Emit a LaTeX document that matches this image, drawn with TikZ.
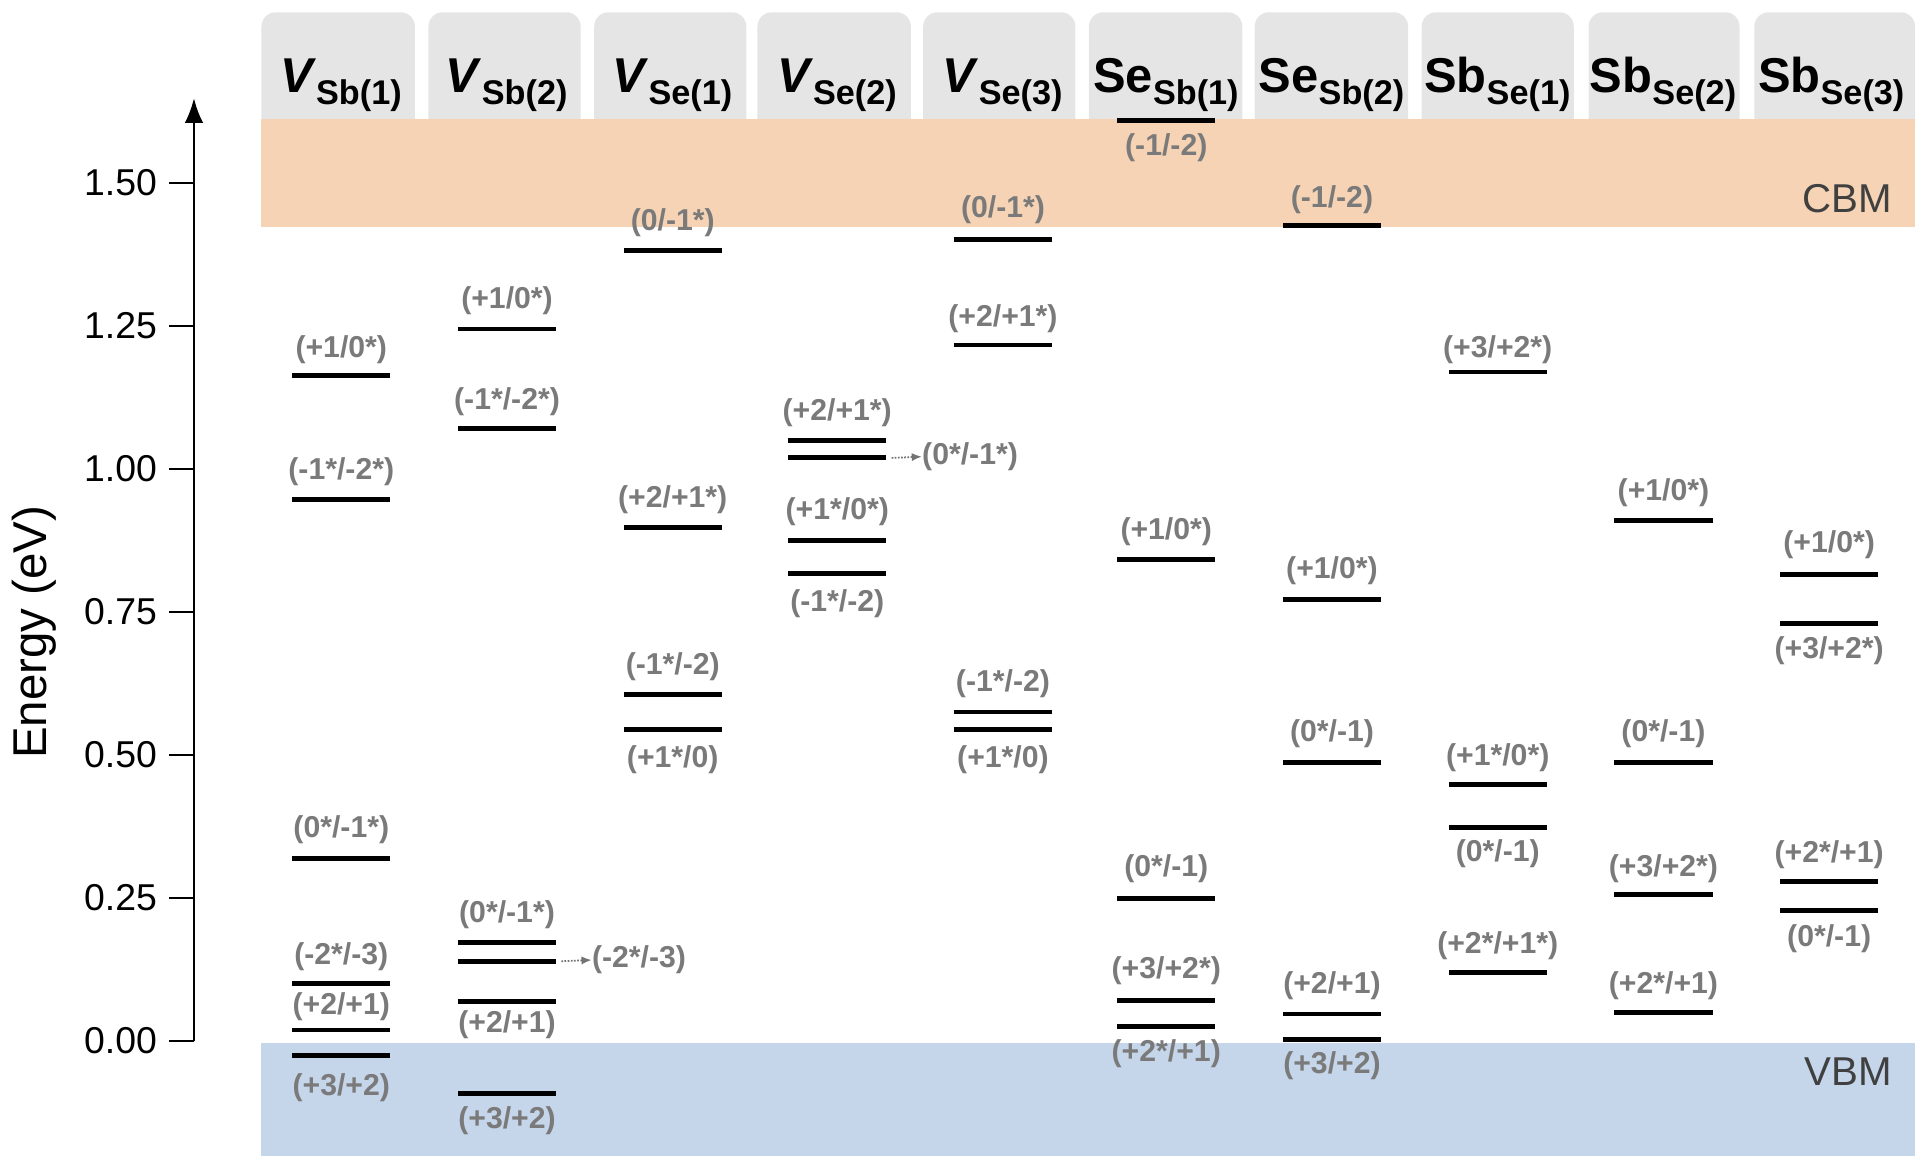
\documentclass[tikz,border=0pt]{standalone}
\usepackage{fontspec}
\usetikzlibrary{arrows.meta}
\setmainfont{Liberation Sans}
\definecolor{cbmc}{RGB}{245,211,180}
\definecolor{vbmc}{RGB}{197,213,234}
\begin{document}
\begin{tikzpicture}[x=0.03cm,y=-0.03cm,
  lvl/.style={fill=black,inner sep=0,minimum width=80*0.03cm,minimum height=0.12cm},
  lab/.style={text=black!52,font=\fontsize{21}{24}\selectfont\bfseries,inner sep=0},
  tick/.style={font=\fontsize{26}{30}\selectfont,anchor=east,inner sep=0},
  hdr/.style={font=\fontsize{34}{38}\selectfont\bfseries,anchor=base,inner sep=0},
  tab/.style={fill=black!10,rounded corners=0.35cm},
  dots/.style={densely dotted,black!55,line width=1.2pt,-{Latex[length=0.25cm,width=0.2cm]}}]
\useasboundingbox (0,0) rectangle (1564,948);
\newcommand\lv[5]{\node[lvl] (#1) at (#2,#3) {};\node[lab] (#1t) at (#2,#4) {#5};}
% tabs
\foreach \a/\b [count=\i] in {213/338,349/473,484/608,617/742,752/876,887/1012,1022/1147,1158/1282,1294/1417,1429/1560}
  \fill[tab] (\a,10) rectangle (\b,115);
\fill[vbmc] (213,850) rectangle (1560,942);
\fill[white] (213,185) rectangle (1560,850);
\fill[cbmc] (213,97) rectangle (1560,185);
% headers
\node[hdr] (h1) at (278,75) {\textit{V}\textsubscript{Sb(1)}};
\node[hdr] (h2) at (413,75) {\textit{V}\textsubscript{Sb(2)}};
\node[hdr] (h3) at (548,75) {\textit{V}\textsubscript{Se(1)}};
\node[hdr] (h4) at (682,75) {\textit{V}\textsubscript{Se(2)}};
\node[hdr] (h5) at (817,75) {\textit{V}\textsubscript{Se(3)}};
\node[hdr] (h6) at (950,75) {Se\textsubscript{Sb(1)}};
\node[hdr] (h7) at (1085,75) {Se\textsubscript{Sb(2)}};
\node[hdr] (h8) at (1220,75) {Sb\textsubscript{Se(1)}};
\node[hdr] (h9) at (1355,75) {Sb\textsubscript{Se(2)}};
\node[hdr] (h10) at (1492,75) {Sb\textsubscript{Se(3)}};
\node[font=\fontsize{28}{32}\selectfont,text=black!75,anchor=east] (cbm) at (1545,162) {CBM};
\node[font=\fontsize{28}{32}\selectfont,text=black!75,anchor=east] (vbm) at (1545,873) {VBM};
% axis
\coordinate (a0) at (158,848); \coordinate (a1) at (158,80);
\draw[line width=1.5pt,-{Latex[length=0.6cm,width=0.45cm]}] (a0) -- (a1);
\foreach \v/\t in {848/0.00,731.5/0.25,615/0.50,498.5/0.75,382/1.00,265.5/1.25,149/1.50}{
  \draw[line width=1.5pt] (138,\v) -- (158,\v);
  \node[tick] at (128,\v) {\t};}
\node[rotate=90,font=\fontsize{33}{36}\selectfont] (ylab) at (28,515) {Energy (eV)};
% levels
\lv{a1}{278}{306}{285}{(+1/0*)}
\lv{a2}{278}{407}{384}{(-1*/-2*)}
\lv{a3}{278}{699}{676}{(0*/-1*)}
\lv{a4}{278}{801}{779}{(-2*/-3)}
\lv{a5}{278}{839}{820}{(+2/+1)}
\lv{a6}{278}{860}{886}{(+3/+2)}
\lv{b1}{413}{268}{245}{(+1/0*)}
\lv{b2}{413}{349}{327}{(-1*/-2*)}
\lv{b3}{413}{768}{745}{(0*/-1*)}
\node[lvl] (b4) at (413,783) {};
\node[lab,anchor=west] (b4t) at (482,782) {(-2*/-3)};
\draw[dots] (b4.east)++(4,0) -- (b4t.west);
\lv{b5}{413}{816}{835}{(+2/+1)}
\lv{b6}{413}{891}{913}{(+3/+2)}
\lv{c1}{548}{204}{181}{(0/-1*)}
\lv{c2}{548}{430}{407}{(+2/+1*)}
\lv{c3}{548}{566}{543}{(-1*/-2)}
\lv{c4}{548}{594}{619}{(+1*/0)}
\lv{d1}{682}{359}{336}{(+2/+1*)}
\node[lvl] (d2) at (682,373) {};
\node[lab,anchor=west] (d2t) at (751,372) {(0*/-1*)};
\draw[dots] (d2.east)++(4,0) -- (d2t.west);
\lv{d3}{682}{440}{417}{(+1*/0*)}
\lv{d4}{682}{467}{492}{(-1*/-2)}
\lv{e1}{817}{195}{171}{(0/-1*)}
\lv{e2}{817}{281}{260}{(+2/+1*)}
\lv{e3}{817}{580}{557}{(-1*/-2)}
\lv{e4}{817}{594}{619}{(+1*/0)}
\lv{f1}{950}{98}{120}{(-1/-2)}
\lv{f2}{950}{456}{433}{(+1/0*)}
\lv{f3}{950}{732}{708}{(0*/-1)}
\lv{f4}{950}{815}{791}{(+3/+2*)}
\lv{f5}{950}{836}{858}{(+2*/+1)}
\lv{g1}{1085}{184}{163}{(-1/-2)}
\lv{g2}{1085}{488}{465}{(+1/0*)}
\lv{g3}{1085}{621}{598}{(0*/-1)}
\lv{g4}{1085}{826}{803}{(+2/+1)}
\lv{g5}{1085}{847}{868}{(+3/+2)}
\lv{k1}{1220}{303}{285}{(+3/+2*)}
\lv{k2}{1220}{639}{617}{(+1*/0*)}
\lv{k3}{1220}{674}{695}{(0*/-1)}
\lv{k4}{1220}{792}{770}{(+2*/+1*)}
\lv{m1}{1355}{424}{401}{(+1/0*)}
\lv{m2}{1355}{621}{598}{(0*/-1)}
\lv{m3}{1355}{729}{708}{(+3/+2*)}
\lv{m4}{1355}{825}{803}{(+2*/+1)}
\lv{n1}{1490}{468}{444}{(+1/0*)}
\lv{n2}{1490}{508}{530}{(+3/+2*)}
\lv{n3}{1490}{718}{696}{(+2*/+1)}
\lv{n4}{1490}{742}{765}{(0*/-1)}
\end{tikzpicture}
\end{document}
